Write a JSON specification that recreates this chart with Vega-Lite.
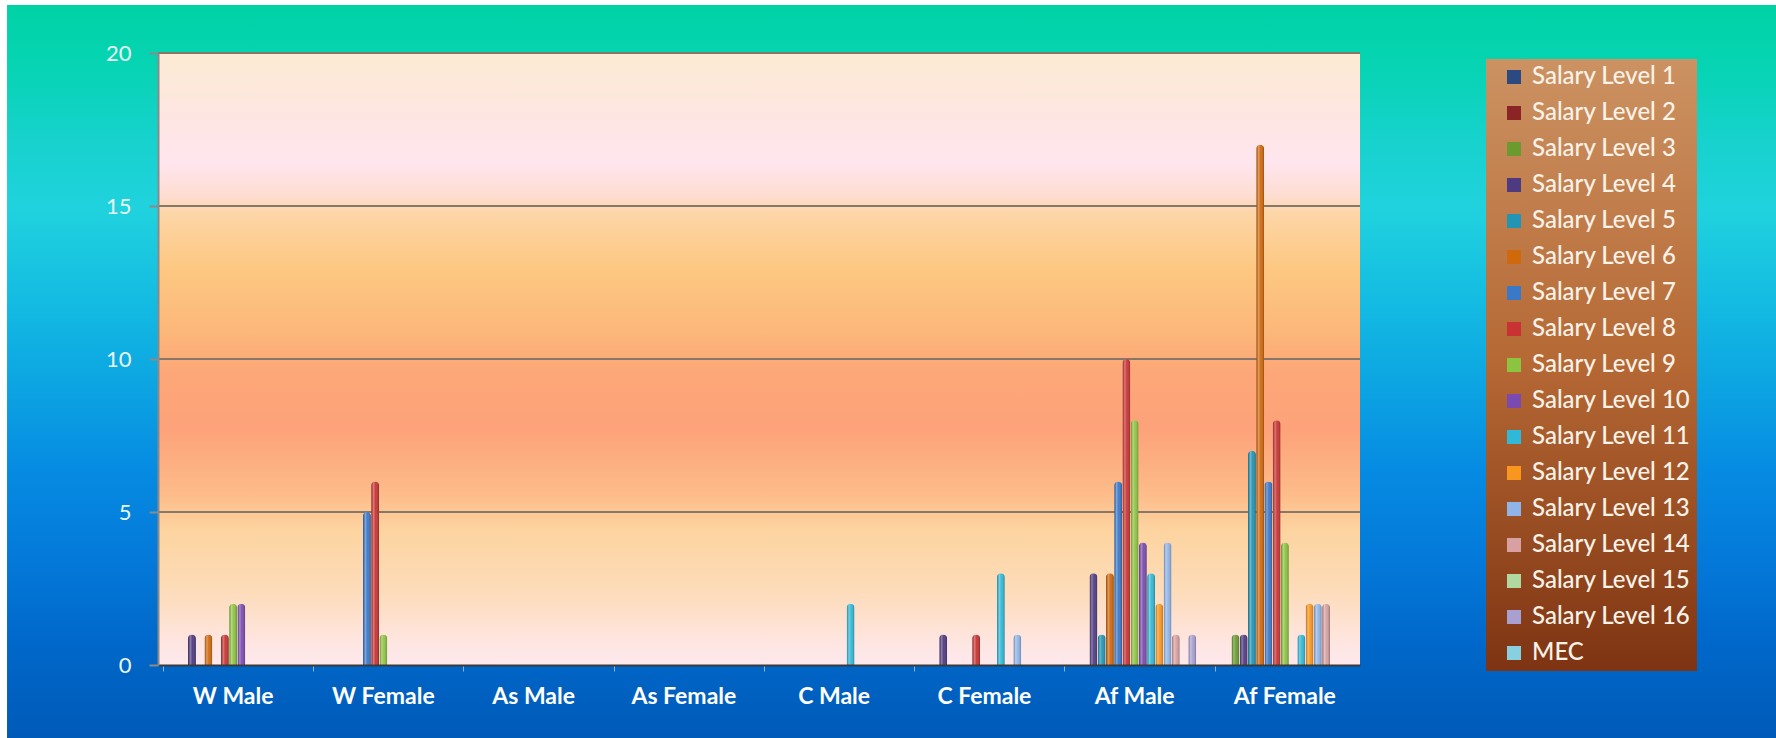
{
  "$schema": "https://vega.github.io/schema/vega-lite/v6.json",
  "width": 1202,
  "height": 612,
  "autosize": {"type": "none"},
  "padding": {"left": 158, "top": 53, "right": 416, "bottom": 73},
  "background": "#FFFFFF",
  "config": {
    "view": {"stroke": null},
    "font": "Lato",
    "axis": {"grid": false}
  },
  "resolve": {"scale": {"x": "independent", "y": "independent"}},
  "layer": [
    {
      "data": {"values": [{}]},
      "mark": {
        "type": "rect",
        "clip": false,
        "fill": {
          "gradient": "linear", "x1": 0, "y1": 0, "x2": 0, "y2": 1,
          "stops": [
            {"offset": 0, "color": "#00D2A6"},
            {"offset": 0.08, "color": "#06D4B2"},
            {"offset": 0.18, "color": "#16D2CC"},
            {"offset": 0.28, "color": "#20D2DE"},
            {"offset": 0.4, "color": "#14BCE2"},
            {"offset": 0.52, "color": "#0CA4E2"},
            {"offset": 0.63, "color": "#068CE2"},
            {"offset": 0.75, "color": "#047ADA"},
            {"offset": 0.87, "color": "#0068CA"},
            {"offset": 1, "color": "#005AB8"}
          ]
        }
      },
      "encoding": {
        "x": {"datum": -0.1256, "type": "quantitative", "scale": {"domain": [0, 1], "nice": false, "zero": false}, "axis": null},
        "x2": {"datum": 1.6},
        "y": {"datum": 1.0785, "type": "quantitative", "scale": {"domain": [0, 1], "nice": false, "zero": false}, "axis": null},
        "y2": {"datum": -0.12}
      }
    },
    {
      "data": {"values": [
        {"group":"W Male","level":"Salary Level 1","count":0},{"group":"W Male","level":"Salary Level 2","count":0},{"group":"W Male","level":"Salary Level 3","count":0},{"group":"W Male","level":"Salary Level 4","count":1},{"group":"W Male","level":"Salary Level 5","count":0},{"group":"W Male","level":"Salary Level 6","count":1},{"group":"W Male","level":"Salary Level 7","count":0},{"group":"W Male","level":"Salary Level 8","count":1},{"group":"W Male","level":"Salary Level 9","count":2},{"group":"W Male","level":"Salary Level 10","count":2},{"group":"W Male","level":"Salary Level 11","count":0},{"group":"W Male","level":"Salary Level 12","count":0},{"group":"W Male","level":"Salary Level 13","count":0},{"group":"W Male","level":"Salary Level 14","count":0},{"group":"W Male","level":"Salary Level 15","count":0},{"group":"W Male","level":"Salary Level 16","count":0},{"group":"W Male","level":"MEC","count":0},
        {"group":"W Female","level":"Salary Level 1","count":0},{"group":"W Female","level":"Salary Level 2","count":0},{"group":"W Female","level":"Salary Level 3","count":0},{"group":"W Female","level":"Salary Level 4","count":0},{"group":"W Female","level":"Salary Level 5","count":0},{"group":"W Female","level":"Salary Level 6","count":0},{"group":"W Female","level":"Salary Level 7","count":5},{"group":"W Female","level":"Salary Level 8","count":6},{"group":"W Female","level":"Salary Level 9","count":1},{"group":"W Female","level":"Salary Level 10","count":0},{"group":"W Female","level":"Salary Level 11","count":0},{"group":"W Female","level":"Salary Level 12","count":0},{"group":"W Female","level":"Salary Level 13","count":0},{"group":"W Female","level":"Salary Level 14","count":0},{"group":"W Female","level":"Salary Level 15","count":0},{"group":"W Female","level":"Salary Level 16","count":0},{"group":"W Female","level":"MEC","count":0},
        {"group":"As Male","level":"Salary Level 1","count":0},{"group":"As Male","level":"Salary Level 2","count":0},{"group":"As Male","level":"Salary Level 3","count":0},{"group":"As Male","level":"Salary Level 4","count":0},{"group":"As Male","level":"Salary Level 5","count":0},{"group":"As Male","level":"Salary Level 6","count":0},{"group":"As Male","level":"Salary Level 7","count":0},{"group":"As Male","level":"Salary Level 8","count":0},{"group":"As Male","level":"Salary Level 9","count":0},{"group":"As Male","level":"Salary Level 10","count":0},{"group":"As Male","level":"Salary Level 11","count":0},{"group":"As Male","level":"Salary Level 12","count":0},{"group":"As Male","level":"Salary Level 13","count":0},{"group":"As Male","level":"Salary Level 14","count":0},{"group":"As Male","level":"Salary Level 15","count":0},{"group":"As Male","level":"Salary Level 16","count":0},{"group":"As Male","level":"MEC","count":0},
        {"group":"As Female","level":"Salary Level 1","count":0},{"group":"As Female","level":"Salary Level 2","count":0},{"group":"As Female","level":"Salary Level 3","count":0},{"group":"As Female","level":"Salary Level 4","count":0},{"group":"As Female","level":"Salary Level 5","count":0},{"group":"As Female","level":"Salary Level 6","count":0},{"group":"As Female","level":"Salary Level 7","count":0},{"group":"As Female","level":"Salary Level 8","count":0},{"group":"As Female","level":"Salary Level 9","count":0},{"group":"As Female","level":"Salary Level 10","count":0},{"group":"As Female","level":"Salary Level 11","count":0},{"group":"As Female","level":"Salary Level 12","count":0},{"group":"As Female","level":"Salary Level 13","count":0},{"group":"As Female","level":"Salary Level 14","count":0},{"group":"As Female","level":"Salary Level 15","count":0},{"group":"As Female","level":"Salary Level 16","count":0},{"group":"As Female","level":"MEC","count":0},
        {"group":"C Male","level":"Salary Level 1","count":0},{"group":"C Male","level":"Salary Level 2","count":0},{"group":"C Male","level":"Salary Level 3","count":0},{"group":"C Male","level":"Salary Level 4","count":0},{"group":"C Male","level":"Salary Level 5","count":0},{"group":"C Male","level":"Salary Level 6","count":0},{"group":"C Male","level":"Salary Level 7","count":0},{"group":"C Male","level":"Salary Level 8","count":0},{"group":"C Male","level":"Salary Level 9","count":0},{"group":"C Male","level":"Salary Level 10","count":0},{"group":"C Male","level":"Salary Level 11","count":2},{"group":"C Male","level":"Salary Level 12","count":0},{"group":"C Male","level":"Salary Level 13","count":0},{"group":"C Male","level":"Salary Level 14","count":0},{"group":"C Male","level":"Salary Level 15","count":0},{"group":"C Male","level":"Salary Level 16","count":0},{"group":"C Male","level":"MEC","count":0},
        {"group":"C Female","level":"Salary Level 1","count":0},{"group":"C Female","level":"Salary Level 2","count":0},{"group":"C Female","level":"Salary Level 3","count":0},{"group":"C Female","level":"Salary Level 4","count":1},{"group":"C Female","level":"Salary Level 5","count":0},{"group":"C Female","level":"Salary Level 6","count":0},{"group":"C Female","level":"Salary Level 7","count":0},{"group":"C Female","level":"Salary Level 8","count":1},{"group":"C Female","level":"Salary Level 9","count":0},{"group":"C Female","level":"Salary Level 10","count":0},{"group":"C Female","level":"Salary Level 11","count":3},{"group":"C Female","level":"Salary Level 12","count":0},{"group":"C Female","level":"Salary Level 13","count":1},{"group":"C Female","level":"Salary Level 14","count":0},{"group":"C Female","level":"Salary Level 15","count":0},{"group":"C Female","level":"Salary Level 16","count":0},{"group":"C Female","level":"MEC","count":0},
        {"group":"Af Male","level":"Salary Level 1","count":0},{"group":"Af Male","level":"Salary Level 2","count":0},{"group":"Af Male","level":"Salary Level 3","count":0},{"group":"Af Male","level":"Salary Level 4","count":3},{"group":"Af Male","level":"Salary Level 5","count":1},{"group":"Af Male","level":"Salary Level 6","count":3},{"group":"Af Male","level":"Salary Level 7","count":6},{"group":"Af Male","level":"Salary Level 8","count":10},{"group":"Af Male","level":"Salary Level 9","count":8},{"group":"Af Male","level":"Salary Level 10","count":4},{"group":"Af Male","level":"Salary Level 11","count":3},{"group":"Af Male","level":"Salary Level 12","count":2},{"group":"Af Male","level":"Salary Level 13","count":4},{"group":"Af Male","level":"Salary Level 14","count":1},{"group":"Af Male","level":"Salary Level 15","count":0},{"group":"Af Male","level":"Salary Level 16","count":1},{"group":"Af Male","level":"MEC","count":0},
        {"group":"Af Female","level":"Salary Level 1","count":0},{"group":"Af Female","level":"Salary Level 2","count":0},{"group":"Af Female","level":"Salary Level 3","count":1},{"group":"Af Female","level":"Salary Level 4","count":1},{"group":"Af Female","level":"Salary Level 5","count":7},{"group":"Af Female","level":"Salary Level 6","count":17},{"group":"Af Female","level":"Salary Level 7","count":6},{"group":"Af Female","level":"Salary Level 8","count":8},{"group":"Af Female","level":"Salary Level 9","count":4},{"group":"Af Female","level":"Salary Level 10","count":0},{"group":"Af Female","level":"Salary Level 11","count":1},{"group":"Af Female","level":"Salary Level 12","count":2},{"group":"Af Female","level":"Salary Level 13","count":2},{"group":"Af Female","level":"Salary Level 14","count":2},{"group":"Af Female","level":"Salary Level 15","count":0},{"group":"Af Female","level":"Salary Level 16","count":0},{"group":"Af Female","level":"MEC","count":0}
      ]},
      "layer": [
        {
          "mark": {
            "type": "rect",
            "fill": {
              "gradient": "linear", "x1": 0, "y1": 0, "x2": 0, "y2": 1,
              "stops": [
                {"offset": 0, "color": "#FDEBD3"},
                {"offset": 0.08, "color": "#FDE7DE"},
                {"offset": 0.18, "color": "#FFE5EE"},
                {"offset": 0.235, "color": "#FEDCD0"},
                {"offset": 0.26, "color": "#FDD6A8"},
                {"offset": 0.35, "color": "#FDC882"},
                {"offset": 0.45, "color": "#FCB87A"},
                {"offset": 0.515, "color": "#FDA878"},
                {"offset": 0.615, "color": "#FDA27A"},
                {"offset": 0.715, "color": "#FDBA88"},
                {"offset": 0.78, "color": "#FDD4A0"},
                {"offset": 0.88, "color": "#FDDCBA"},
                {"offset": 0.97, "color": "#FEE6E4"},
                {"offset": 1, "color": "#FDE8EC"}
              ]
            }
          },
          "encoding": {
            "y": {"datum": 20, "type": "quantitative", "scale": {"domain": [0, 20], "nice": false}},
            "y2": {"datum": 0}
          }
        },
        {
          "data": {"values": [{"grid": 5}, {"grid": 10}, {"grid": 15}, {"grid": 20}]},
          "mark": {"type": "rule", "color": "#857868", "strokeWidth": 2},
          "encoding": {
            "y": {"field": "grid", "type": "quantitative", "title": null, "scale": {"domain": [0, 20], "nice": false}}
          }
        },
        {
          "mark": {"type": "bar", "cornerRadiusTopLeft": 4, "cornerRadiusTopRight": 4},
          "encoding": {
            "x": {
              "field": "group", "type": "nominal", "title": null,
              "sort": ["W Male","W Female","As Male","As Female","C Male","C Female","Af Male","Af Female"],
              "scale": {"paddingInner": 0.07, "paddingOuter": 0.035},
              "axis": {
                "zindex": 1, "title": null, "grid": false, "labelAngle": 0, "labelColor": "#FFFFFF", "labelFont": "Lato",
                "labelFontSize": 23, "labelFontWeight": "bold", "labelPadding": 14,
                "domainColor": "#3A3A3A", "domainWidth": 2, "tickColor": "#9AB0C8", "tickSize": 6,
                "tickWidth": 1, "bandPosition": 0
              }
            },
            "xOffset": {
              "field": "level", "type": "nominal",
              "scale": {"domain": ["Salary Level 1","Salary Level 2","Salary Level 3","Salary Level 4","Salary Level 5","Salary Level 6","Salary Level 7","Salary Level 8","Salary Level 9","Salary Level 10","Salary Level 11","Salary Level 12","Salary Level 13","Salary Level 14","Salary Level 15","Salary Level 16","MEC"], "paddingInner": 0.03}
            },
            "y": {
              "field": "count", "type": "quantitative", "title": null,
              "scale": {"domain": [0, 20], "nice": false},
              "axis": {
                "zindex": 1, "title": null, "grid": false, "values": [0, 5, 10, 15, 20], "labelColor": "#E8F6F2", "labelFont": "Lato",
                "labelFontSize": 22, "labelPadding": 18, "domainColor": "#8A8A8A", "domainWidth": 2,
                "tickColor": "#8A8A8A", "tickSize": 9, "tickWidth": 2
              }
            },
            "color": {
              "field": "level", "type": "nominal",
              "scale": {
                "domain": ["Salary Level 1","Salary Level 2","Salary Level 3","Salary Level 4","Salary Level 5","Salary Level 6","Salary Level 7","Salary Level 8","Salary Level 9","Salary Level 10","Salary Level 11","Salary Level 12","Salary Level 13","Salary Level 14","Salary Level 15","Salary Level 16","MEC"],
                "range": ["#2A4A80","#8B2525","#6A9A30","#4E3A80","#2294B4","#D0680C","#3A78C8","#C83232","#8CC440","#7A4AB0","#30B8D8","#F8961E","#90B4E8","#D8A0A0","#B0D8A0","#A8A0D0","#88D0E0"]
              },
              "legend": {
                "title": null, "orient": "none", "legendX": 1328, "legendY": 6,
                "symbolType": "square", "symbolSize": 196, "symbolStrokeWidth": 0, "symbolOpacity": 1,
                "symbolOffset": 10, "labelOffset": 6, "labelColor": "#F8F2E8", "labelFont": "Lato",
                "labelFontSize": 24, "labelFontWeight": 500, "labelLimit": 300, "rowPadding": 12, "padding": 6,
                "encode": {
                  "legend": {
                    "update": {
                      "fill": {"value": {
                        "gradient": "linear", "x1": 0, "y1": 0, "x2": 0, "y2": 1,
                        "stops": [
                          {"offset": 0, "color": "#CC9262"},
                          {"offset": 0.5, "color": "#B56834"},
                          {"offset": 1, "color": "#7E3412"}
                        ]
                      }}
                    }
                  }
                }
              }
            }
          }
        },
        {
          "mark": {
            "type": "bar", "cornerRadiusTopLeft": 4, "cornerRadiusTopRight": 4,
            "fill": {
              "gradient": "linear", "x1": 0, "y1": 0, "x2": 1, "y2": 0,
              "stops": [
                {"offset": 0, "color": "rgba(0,0,0,0.25)"},
                {"offset": 0.3, "color": "rgba(255,255,255,0.35)"},
                {"offset": 0.55, "color": "rgba(255,255,255,0.05)"},
                {"offset": 1, "color": "rgba(0,0,0,0.3)"}
              ]
            }
          },
          "encoding": {
            "x": {
              "field": "group", "type": "nominal", "title": null,
              "sort": ["W Male","W Female","As Male","As Female","C Male","C Female","Af Male","Af Female"],
              "scale": {"paddingInner": 0.07, "paddingOuter": 0.035},
              "axis": {
                "zindex": 1, "title": null, "grid": false, "labelAngle": 0, "labelColor": "#FFFFFF", "labelFont": "Lato",
                "labelFontSize": 23, "labelFontWeight": "bold", "labelPadding": 14,
                "domainColor": "#3A3A3A", "domainWidth": 2, "tickColor": "#9AB0C8", "tickSize": 6,
                "tickWidth": 1, "bandPosition": 0
              }
            },
            "xOffset": {"field": "level", "type": "nominal", "scale": {"domain": ["Salary Level 1","Salary Level 2","Salary Level 3","Salary Level 4","Salary Level 5","Salary Level 6","Salary Level 7","Salary Level 8","Salary Level 9","Salary Level 10","Salary Level 11","Salary Level 12","Salary Level 13","Salary Level 14","Salary Level 15","Salary Level 16","MEC"], "paddingInner": 0.03}},
            "y": {
              "field": "count", "type": "quantitative", "title": null,
              "scale": {"domain": [0, 20], "nice": false},
              "axis": {
                "zindex": 1, "title": null, "grid": false, "values": [0, 5, 10, 15, 20], "labelColor": "#E8F6F2", "labelFont": "Lato",
                "labelFontSize": 22, "labelPadding": 18, "domainColor": "#8A8A8A", "domainWidth": 2,
                "tickColor": "#8A8A8A", "tickSize": 9, "tickWidth": 2
              }
            }
          }
        }
      ]
    }
  ]
}
